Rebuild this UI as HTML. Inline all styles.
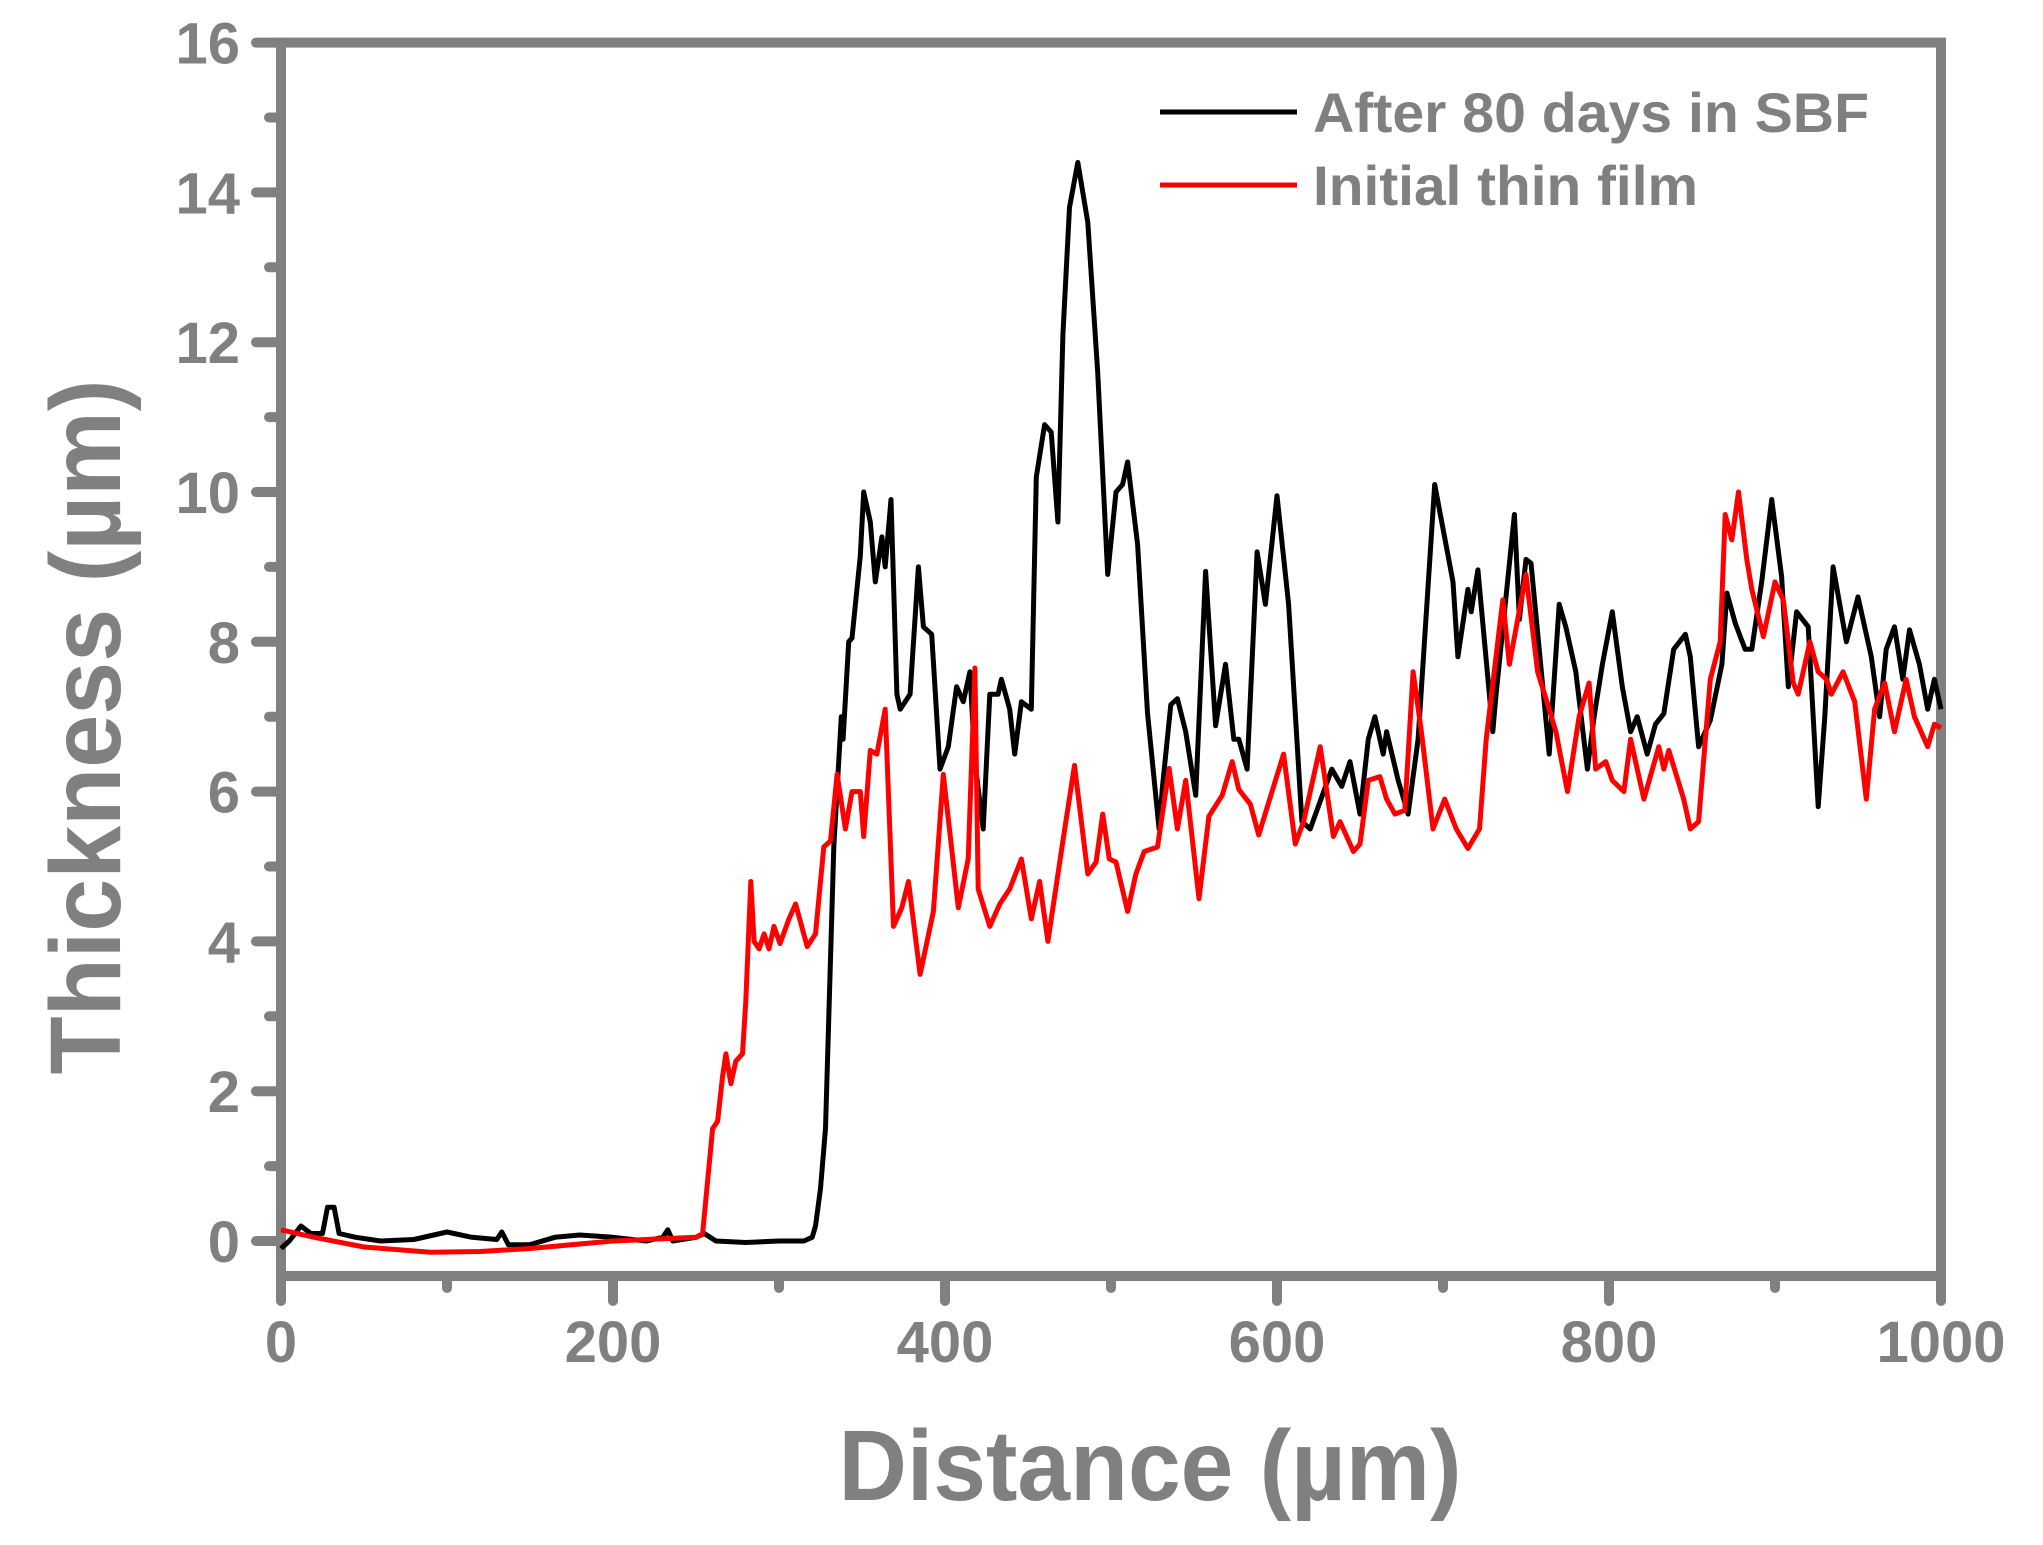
<!DOCTYPE html>
<html><head><meta charset="utf-8"><style>
html,body{margin:0;padding:0;background:#fff;}
svg{display:block;}
text{font-family:"Liberation Sans",Arial,sans-serif;font-weight:bold;fill:#808080;}
</style></head><body>
<svg id="chart" width="2043" height="1545" viewBox="0 0 2043 1545" xmlns="http://www.w3.org/2000/svg">
<g id="axes"></g>
<g id="series"></g>
<g id="legend">
  <line x1="1160" y1="112" x2="1297" y2="112" stroke="#000" stroke-width="5"/>
  <text x="1313" y="132" font-size="56" textLength="556" lengthAdjust="spacingAndGlyphs">After 80 days in SBF</text>
  <line x1="1160" y1="185" x2="1297" y2="185" stroke="#ff0000" stroke-width="5"/>
  <text x="1313" y="205" font-size="56" textLength="385" lengthAdjust="spacingAndGlyphs">Initial thin film</text>
</g>
<text x="1150" y="1500" font-size="100" text-anchor="middle" textLength="623" lengthAdjust="spacingAndGlyphs">Distance (µm)</text>
<text transform="translate(120,727) rotate(-90)" x="0" y="0" font-size="100" text-anchor="middle" textLength="695" lengthAdjust="spacingAndGlyphs">Thickness (µm)</text>
</svg>
<script>
const xTicks = [0, 200, 400, 600, 800, 1000];
const xMinorTicks = [100, 300, 500, 700, 900];
const yTicks = [0, 2, 4, 6, 8, 10, 12, 14, 16];
const yMinorTicks = [1, 3, 5, 7, 9, 11, 13, 15];

const sbfX = [0,5,12,18,25,28,32,35,45,60,80,100,115,130,133,137,150,165,180,200,220,230,233,236,250,255,262,280,300,315,320,322,325,328,333,337.5,338.6,342,344,349,351,355,358,362,364,367.5,371,373,379,384,387,392,397,402,407,411,415,418,423,427,432,434,439,442,446,452,455,460,464,468,471,475,480,486,492,498,503,507,510,516,522,529,531,536,540,545,551,557,563,569,574,577,582,588,593,600,607,615,620,633,639,644,650,655,659,664,666,673,679,685,695,706,709,715,717,721,730,732,743,746,750,753,764,770,774,780,787,791,796,802,808,813,817,823,828,833,839,846,849,854,861,868,871,876,882,886,892,898,904,908,913,920,926,930,935,943,950,958,963,967,972,977,981,987,992,996,1000];
const sbfY = [-0.1,0,0.2,0.1,0.1,0.45,0.45,0.1,0.05,0,0.02,0.12,0.05,0.02,0.12,-0.05,-0.05,0.05,0.08,0.05,0,0.05,0.15,0,0.05,0.1,0,-0.02,0,0,0.05,0.2,0.7,1.5,5.26,7.0,6.7,8.0,8.05,9.15,10.0,9.6,8.8,9.4,9.0,9.9,7.3,7.1,7.3,9.0,8.2,8.1,6.3,6.6,7.4,7.2,7.6,6.4,5.5,7.3,7.3,7.5,7.1,6.5,7.2,7.1,10.2,10.9,10.8,9.6,12.1,13.8,14.4,13.6,11.6,8.9,10.0,10.1,10.4,9.3,7.05,5.5,6.07,7.16,7.24,6.8,5.95,8.94,6.88,7.7,6.7,6.7,6.3,9.2,8.5,9.95,8.5,5.6,5.5,6.3,6.07,6.4,5.7,6.7,7.0,6.5,6.8,6.15,5.7,6.7,10.1,8.8,7.8,8.7,8.4,8.96,6.8,7.3,9.7,8.3,9.1,9.05,6.5,8.5,8.2,7.6,6.3,7.0,7.7,8.4,7.4,6.8,7.0,6.5,6.9,7.04,7.9,8.1,7.8,6.6,6.95,7.7,8.65,8.25,7.9,7.9,8.8,9.9,8.87,7.4,8.4,8.2,5.8,7.0,9.0,8.0,8.6,7.8,7.0,7.9,8.2,7.5,8.16,7.7,7.1,7.5,7.1];

const initX = [0,20,50,90,120,150,200,250,254,257,260,263,266,268,271,274,278,280,283,285,288,291,294,297,300.6,306,310,317,322,327,331,335,340,344,349,351,355,359,364,369,374,378,385,393,399,408,414,418,420,427,433,439,446,452,457,462,471,478,486,491,495,499,503,510,515,520,528,535,540,545,553,559,567,573,577,584,589,597,604,611,616,626,634,638,646,650,655,662,666,671,677,682,687,694,701,708,715,722,726,736,740,750,757,764,768,775,782,788,792,798,802,809,813,821,830,833,836,845,849,854,861,867,870,874,878,883,886,893,900,905,911,914,921,926,931,934,941,948,955,960,966,972,979,984,992,996,1000];
const initY = [0.15,0.05,-0.08,-0.15,-0.14,-0.1,0,0.05,0.1,0.8,1.5,1.6,2.2,2.5,2.1,2.4,2.5,3.2,4.8,4.0,3.9,4.1,3.9,4.2,3.97,4.3,4.5,3.93,4.1,5.26,5.34,6.23,5.5,6.0,6.0,5.4,6.55,6.5,7.1,4.2,4.45,4.8,3.56,4.4,6.23,4.45,5.1,7.65,4.7,4.2,4.5,4.7,5.1,4.3,4.8,4.0,5.34,6.35,4.9,5.06,5.7,5.1,5.06,4.4,4.9,5.2,5.26,6.31,5.5,6.15,4.57,5.67,5.95,6.4,6.03,5.83,5.42,6.0,6.5,5.3,5.6,6.6,5.4,5.6,5.2,5.3,6.15,6.2,5.9,5.7,5.75,7.6,6.8,5.5,5.9,5.5,5.24,5.5,6.7,8.56,7.7,8.9,7.6,7.1,6.8,6.0,7.0,7.45,6.3,6.4,6.15,6.0,6.7,5.9,6.6,6.3,6.55,5.9,5.5,5.6,7.5,8.0,9.7,9.36,10.0,9.1,8.7,8.07,8.8,8.56,7.45,7.3,8.0,7.6,7.5,7.3,7.6,7.2,5.9,7.1,7.45,6.8,7.5,7.0,6.6,6.9,6.85];

const X0 = 281, X1 = 1941, Y0 = 1241, PXU = 74.9;
const xs = v => X0 + (v / 1000) * (X1 - X0);
const ys = v => Y0 - v * PXU;
const NS = 'http://www.w3.org/2000/svg';
const axes = document.getElementById('axes');
const series = document.getElementById('series');
const GRAY = '#808080';
function mk(tag, attrs, parent){ const e = document.createElementNS(NS, tag); for (const k in attrs) e.setAttribute(k, attrs[k]); parent.appendChild(e); return e; }

const yTop = ys(16), yBot = 1276;
const frame = mk('rect', {x: X0, y: yTop, width: X1 - X0, height: yBot - yTop, fill: 'none', stroke: GRAY, 'stroke-width': 10}, axes);



xTicks.forEach(t => {
  const l = mk('line', {x1: xs(t), x2: xs(t), y1: yBot, y2: yBot + 25, stroke: GRAY, 'stroke-width': 10, 'stroke-linecap': 'round'}, axes);
  
  
  const tx = mk('text', {x: xs(t), y: 1362, 'font-size': 58, 'text-anchor': 'middle'}, axes);
  tx.textContent = String(t);
  
  
});
xMinorTicks.forEach(t => {
  const l = mk('line', {x1: xs(t), x2: xs(t), y1: yBot, y2: yBot + 12, stroke: GRAY, 'stroke-width': 10, 'stroke-linecap': 'round'}, axes);
  
  
});
yTicks.forEach(t => {
  const l = mk('line', {x1: X0, x2: X0 - 25, y1: ys(t), y2: ys(t), stroke: GRAY, 'stroke-width': 10, 'stroke-linecap': 'round'}, axes);
  
  
  const tx = mk('text', {x: 240, y: ys(t) + 21, 'font-size': 58, 'text-anchor': 'end'}, axes);
  tx.textContent = String(t);
  
  
});
yMinorTicks.forEach(t => {
  const l = mk('line', {x1: X0, x2: X0 - 12, y1: ys(t), y2: ys(t), stroke: GRAY, 'stroke-width': 10, 'stroke-linecap': 'round'}, axes);
  
  
});

function path(xArr, yArr){ return xArr.map((x, i) => (i ? 'L' : 'M') + xs(x).toFixed(1) + ',' + ys(yArr[i]).toFixed(1)).join(''); }
const sbf = mk('path', {d: path(sbfX, sbfY), fill: 'none', stroke: '#000', 'stroke-width': 5, 'stroke-linejoin': 'round'}, series);


const init = mk('path', {d: path(initX, initY), fill: 'none', stroke: '#ff0000', 'stroke-width': 5, 'stroke-linejoin': 'round'}, series);


</script>
</body></html>
